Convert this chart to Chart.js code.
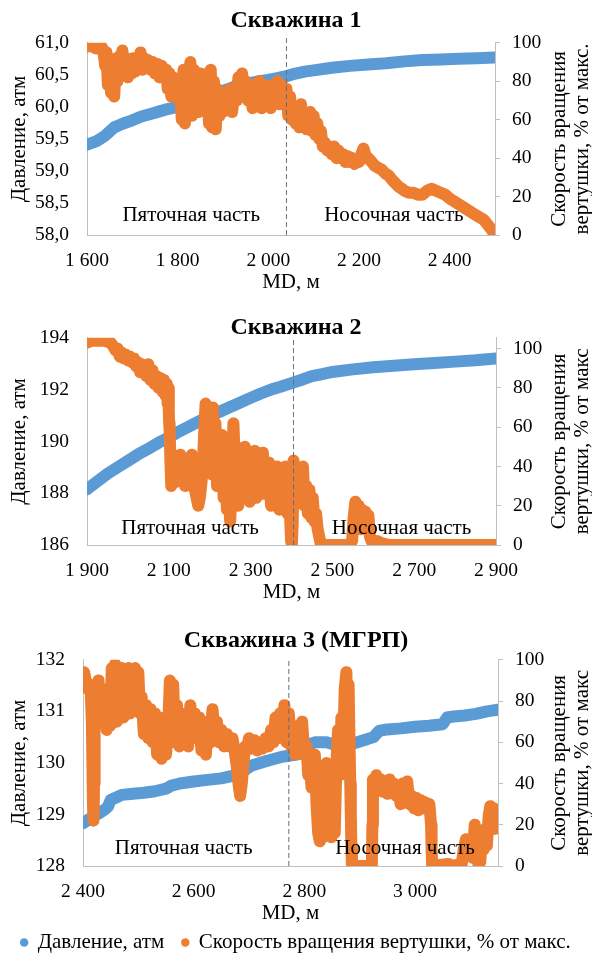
<!DOCTYPE html>
<html lang="ru">
<head>
<meta charset="utf-8">
<title>Скважины 1–3</title>
<script src="https://cdn.jsdelivr.net/npm/chart.js@4.4.1/dist/chart.umd.min.js"></script>
<style>
    html, body { margin: 0; padding: 0; background: #fff; overflow: hidden; }
    canvas { display: block; }
</style>
</head>
<body>
<canvas id="well1" width="592" height="300"></canvas>
<canvas id="well2" width="592" height="315"></canvas>
<canvas id="well3" width="592" height="348"></canvas>
<script>
    'use strict';

    // Общие подписи
    const pressureLabel = 'Давление, атм';
    const spinLabel = 'Скорость вращения вертушки, % от макс.';
    const spinTicks = [0, 20, 40, 60, 80, 100];

    // ---- Скважина 1 ----
    const well1MdTicks = [1600, 1800, 2000, 2200, 2400];
    const well1PressureTicks = [58, 58.5, 59, 59.5, 60, 60.5, 61];
    const well1Pressure = [
        [1600, 59.41], [1620, 59.46], [1640, 59.55], [1660, 59.68], [1680, 59.74], [1700, 59.79],
        [1720, 59.85], [1740, 59.89], [1760, 59.93], [1780, 59.97], [1800, 60.0], [1820, 60.05],
        [1840, 60.1], [1860, 60.15], [1880, 60.2], [1900, 60.25], [1920, 60.3], [1940, 60.34],
        [1960, 60.37], [1980, 60.4], [2000, 60.42], [2020, 60.45], [2040, 60.48], [2060, 60.52],
        [2080, 60.55], [2100, 60.57], [2140, 60.61], [2180, 60.64], [2220, 60.66], [2260, 60.68],
        [2300, 60.71], [2340, 60.73], [2380, 60.74], [2420, 60.75], [2460, 60.76], [2500, 60.77]
    ];
    const well1Spin = [
        [1600, 98], [1605, 99], [1612, 98], [1620, 97], [1626, 100], [1632, 98], [1636, 96],
        [1640, 88], [1643, 95], [1646, 78], [1650, 90], [1653, 74], [1657, 86], [1660, 72], [1664, 92], [1667, 80],
        [1671, 93], [1674, 84], [1678, 96], [1682, 86], [1686, 92], [1690, 82], [1694, 90], [1698, 84],
        [1702, 92], [1706, 85], [1710, 90], [1714, 86], [1718, 95], [1722, 86], [1726, 92], [1730, 88],
        [1735, 91], [1740, 86], [1745, 90], [1750, 84], [1755, 89], [1760, 82], [1765, 88], [1770, 84],
        [1775, 86], [1778, 76], [1782, 84], [1786, 72], [1790, 82], [1794, 74], [1798, 80], [1802, 70],
        [1806, 78], [1809, 60], [1813, 86], [1816, 58], [1820, 82], [1824, 64], [1828, 90], [1832, 62],
        [1836, 86], [1840, 66], [1844, 80], [1847, 64], [1851, 84], [1855, 70], [1858, 78], [1862, 66],
        [1866, 84], [1869, 58], [1873, 86], [1876, 56], [1880, 80], [1884, 55], [1888, 76], [1892, 62],
        [1896, 74], [1900, 64], [1905, 72], [1910, 66], [1915, 76], [1920, 64], [1925, 74], [1930, 70],
        [1934, 82], [1938, 72], [1942, 84], [1946, 72], [1950, 80], [1955, 70], [1960, 76], [1965, 66],
        [1970, 78], [1975, 68], [1980, 80], [1985, 66], [1990, 78], [1995, 70], [2000, 76], [2005, 66],
        [2010, 78], [2015, 70], [2020, 80], [2025, 68], [2030, 78], [2035, 70],
        [2040, 76], [2044, 62], [2048, 72], [2052, 60], [2056, 66], [2060, 58], [2064, 62], [2068, 56],
        [2072, 68], [2076, 58], [2080, 62], [2084, 55], [2088, 58], [2092, 64], [2096, 54], [2100, 62],
        [2104, 52], [2108, 58], [2112, 50], [2116, 54], [2120, 46], [2125, 48], [2130, 44],
        [2135, 46], [2140, 42], [2145, 46], [2150, 40], [2155, 44], [2160, 40], [2165, 42], [2170, 38],
        [2175, 41], [2180, 38], [2185, 40], [2190, 37], [2195, 39], [2200, 38], [2205, 42], [2210, 45],
        [2215, 41], [2220, 40], [2228, 38], [2235, 36], [2242, 35], [2250, 34], [2258, 32], [2265, 31],
        [2272, 29], [2280, 27], [2288, 25], [2295, 24], [2300, 23], [2310, 22], [2320, 22], [2330, 21],
        [2340, 21], [2350, 23], [2360, 24], [2370, 23], [2380, 22], [2390, 21], [2400, 19], [2420, 16],
        [2440, 13], [2460, 10], [2475, 8], [2485, 5], [2492, 3], [2497, 1], [2500, 0]
    ];

    // ---- Скважина 2 ----
    const well2MdTicks = [1900, 2100, 2300, 2500, 2700, 2900];
    const well2PressureTicks = [186, 188, 190, 192, 194];
    const well2Pressure = [
        [1900, 188.15], [1925, 188.45], [1950, 188.75], [1975, 189.0], [2000, 189.25], [2025, 189.5],
        [2050, 189.72], [2075, 189.95], [2100, 190.15], [2125, 190.38], [2150, 190.58], [2175, 190.78],
        [2200, 190.98], [2225, 191.15], [2250, 191.33], [2275, 191.5], [2300, 191.68], [2325, 191.85],
        [2350, 192.0], [2375, 192.12], [2400, 192.25], [2425, 192.38], [2450, 192.52], [2475, 192.6],
        [2500, 192.68], [2550, 192.78], [2600, 192.86], [2650, 192.92], [2700, 192.98], [2750, 193.03],
        [2800, 193.08], [2850, 193.13], [2900, 193.2]
    ];
    const well2Spin = [
        [1900, 103], [1910, 104], [1920, 104], [1930, 104], [1940, 104], [1950, 103.5], [1958, 103],
        [1965, 101], [1970, 99], [1975, 100], [1980, 96], [1985, 98], [1990, 95], [1995, 97], [2000, 94],
        [2005, 96], [2010, 93], [2015, 95], [2020, 91], [2025, 93], [2030, 88], [2035, 92], [2040, 90],
        [2045, 86], [2050, 92], [2055, 84], [2060, 89], [2065, 82], [2070, 86], [2075, 80], [2080, 85],
        [2085, 78], [2088, 84], [2092, 76], [2095, 82], [2097, 72], [2099, 80], [2100, 68], [2101, 62],
        [2102, 58], [2104, 42], [2106, 30], [2108, 46], [2110, 34], [2113, 40], [2116, 32], [2120, 44],
        [2124, 34], [2128, 46], [2132, 36], [2136, 42], [2140, 30], [2144, 40], [2148, 34], [2152, 42],
        [2156, 46], [2160, 36], [2164, 28], [2168, 24], [2172, 20], [2176, 24], [2180, 32], [2184, 44],
        [2187, 60], [2190, 72], [2193, 50], [2196, 70], [2199, 40], [2202, 66], [2205, 36], [2208, 70],
        [2211, 46], [2214, 62], [2218, 30], [2222, 54], [2226, 40], [2230, 56], [2234, 24], [2238, 46],
        [2242, 18], [2246, 40], [2250, 12], [2254, 30], [2258, 62], [2262, 38], [2266, 50], [2270, 20],
        [2274, 38], [2278, 48], [2282, 26], [2286, 50], [2290, 30], [2294, 44], [2298, 22], [2302, 40],
        [2306, 26], [2310, 48], [2314, 24], [2318, 42], [2322, 28], [2330, 47], [2335, 26], [2340, 38],
        [2345, 42], [2350, 20], [2355, 34], [2360, 24], [2365, 40], [2370, 18], [2375, 32], [2380, 22],
        [2385, 40], [2390, 16], [2394, 34], [2397, 12], [2399, 2], [2401, 0], [2403, 12], [2405, 43],
        [2408, 20], [2412, 40], [2416, 22], [2420, 38], [2424, 24], [2428, 40], [2432, 20], [2436, 30],
        [2440, 16], [2444, 28], [2448, 14], [2452, 24], [2456, 12], [2460, 16], [2464, 8], [2468, 4],
        [2472, 0], [2500, 0], [2540, 0], [2548, 2], [2552, 14], [2556, 22], [2560, 10], [2564, 20],
        [2568, 8], [2572, 18], [2576, 14], [2580, 17], [2584, 8], [2588, 15], [2592, 4], [2596, 2],
        [2600, 1], [2610, 2], [2620, 1], [2640, 0], [2700, 0], [2800, 0], [2900, 0]
    ];

    // ---- Скважина 3 (МГРП) ----
    const well3MdTicks = [2400, 2600, 2800, 3000];
    const well3PressureTicks = [128, 129, 130, 131, 132];
    const well3Pressure = [
        [2400, 128.83], [2410, 128.9], [2420, 128.97], [2430, 129.03], [2440, 129.1], [2445, 129.15],
        [2450, 129.28], [2460, 129.33], [2470, 129.38], [2490, 129.4], [2510, 129.42], [2530, 129.45],
        [2550, 129.5], [2560, 129.56], [2575, 129.6], [2600, 129.64], [2625, 129.67], [2650, 129.7],
        [2670, 129.75], [2685, 129.8], [2695, 129.88], [2705, 129.95], [2720, 130.0], [2740, 130.06],
        [2760, 130.12], [2780, 130.15], [2795, 130.18], [2805, 130.35], [2820, 130.4], [2840, 130.4],
        [2860, 130.34], [2875, 130.33], [2890, 130.38], [2910, 130.45], [2925, 130.5], [2935, 130.62],
        [2950, 130.65], [2975, 130.67], [3000, 130.7], [3025, 130.72], [3050, 130.75], [3058, 130.88],
        [3070, 130.9], [3090, 130.92], [3110, 130.95], [3130, 131.0], [3150, 131.03]
    ];
    const well3Spin = [
        [2398, 92], [2402, 94], [2405, 90], [2408, 86], [2411, 88], [2414, 84], [2416, 70], [2417, 50],
        [2418, 30], [2419, 22], [2420, 40], [2421, 70], [2422, 88], [2425, 80], [2428, 90], [2431, 78],
        [2434, 86], [2437, 70], [2440, 82], [2443, 66], [2446, 78], [2449, 68], [2452, 96], [2455, 74],
        [2458, 98], [2461, 70], [2464, 92], [2467, 76], [2470, 96], [2473, 72], [2476, 94], [2479, 78],
        [2482, 96], [2485, 74], [2488, 92], [2491, 76], [2494, 96], [2497, 80], [2500, 94], [2503, 74],
        [2506, 82], [2510, 64], [2514, 78], [2518, 62], [2522, 76], [2526, 60], [2530, 74], [2534, 54],
        [2538, 72], [2542, 52], [2546, 70], [2550, 54], [2554, 68], [2557, 90], [2560, 60], [2563, 88],
        [2566, 62], [2570, 78], [2574, 58], [2578, 74], [2582, 60], [2586, 72], [2590, 58], [2594, 78],
        [2598, 62], [2602, 74], [2606, 62], [2610, 72], [2614, 56], [2618, 70], [2622, 54], [2626, 68],
        [2630, 60], [2634, 76], [2638, 64], [2642, 70], [2646, 60], [2650, 66], [2655, 58], [2660, 64],
        [2665, 58], [2670, 62], [2674, 56], [2678, 48], [2681, 40], [2684, 34], [2687, 40], [2690, 50],
        [2693, 58], [2696, 56], [2700, 62], [2705, 57], [2710, 61], [2715, 56], [2720, 60], [2725, 57],
        [2730, 62], [2735, 58], [2740, 66], [2744, 60], [2748, 72], [2752, 62], [2756, 74], [2760, 64],
        [2764, 78], [2768, 60], [2772, 74], [2776, 58], [2780, 68], [2784, 54], [2788, 64], [2792, 56],
        [2796, 70], [2800, 54], [2804, 58], [2807, 44], [2810, 50], [2813, 38], [2816, 44], [2819, 54],
        [2822, 30], [2825, 16], [2828, 12], [2831, 22], [2834, 14], [2837, 30], [2840, 50], [2843, 34],
        [2846, 20], [2849, 14], [2852, 24], [2855, 16], [2858, 50], [2861, 66], [2864, 44], [2867, 72],
        [2870, 56], [2873, 86], [2876, 94], [2878, 60], [2880, 88], [2882, 55], [2883, 40], [2884, 25],
        [2885, 10], [2886, 0], [2922, 0], [2923, 20], [2924, 42], [2927, 38], [2930, 44], [2934, 38],
        [2938, 42], [2942, 36], [2946, 41], [2950, 35], [2954, 42], [2958, 36], [2962, 40], [2966, 34],
        [2970, 38], [2974, 30], [2978, 40], [2982, 32], [2986, 41], [2990, 30], [2994, 34], [2998, 28],
        [3002, 33], [3006, 27], [3010, 32], [3014, 28], [3018, 31], [3022, 28], [3026, 30], [3029, 20],
        [3030, 8], [3031, 0], [3060, 1], [3070, 0], [3080, 1], [3084, 0], [3088, 8], [3092, 13],
        [3096, 6], [3100, 12], [3104, 4], [3108, 20], [3112, 8], [3115, 0], [3118, 2], [3121, 14],
        [3124, 8], [3127, 18], [3130, 10], [3133, 24], [3136, 29], [3139, 20], [3142, 28], [3145, 18],
        [3148, 24], [3150, 21]
    ];

    // Цвета и шрифты
    const colors = {
        pressure: '#5B9BD5',
        spin: '#ED7D31',
        axis: '#BFBFBF',
        divider: '#5F6F86',
        text: '#000000'
    };
    const serif = '"Liberation Serif", "Times New Roman", serif';
    const textSize = 21;

    Chart.defaults.font.family = serif;
    Chart.defaults.font.size = textSize;
    Chart.defaults.color = colors.text;

    const tickFont = { size: 19.5 };
    const toPoints = pairs => pairs.map(p => ({ x: p[0], y: p[1] }));
    const mdLabel = v => String(v).replace(/\B(?=(\d{3})+(?!\d))/g, ' ');
    const fixedTicks = list => scale => { scale.ticks = list.map(value => ({ value: value })); };

    /**
     * Граница пяточной/носочной части, подписи зон и правый заголовок оси
     */
    const wellDecor = {
        id: 'wellDecor',
        afterDatasetsDraw(chart, args, opts) {
            const { ctx, chartArea, scales } = chart;
            const bx = scales.x.getPixelForValue(opts.boundary);

            ctx.save();
            ctx.strokeStyle = colors.divider;
            ctx.lineWidth = 1;
            ctx.setLineDash([5, 3]);
            ctx.beginPath();
            ctx.moveTo(bx, chartArea.bottom);
            ctx.lineTo(bx, chartArea.top - opts.overshoot);
            ctx.stroke();
            ctx.setLineDash([]);

            ctx.font = textSize + 'px ' + serif;
            ctx.fillStyle = colors.text;
            ctx.textAlign = 'center';
            ctx.textBaseline = 'middle';
            opts.zones.forEach(function(z) {
                ctx.fillText(z.text, scales.x.getPixelForValue(z.x), scales.y2.getPixelForValue(z.y));
            });

            // подпись правой оси читается снизу вверх, как в Excel
            const midY = (chartArea.top + chartArea.bottom) / 2;
            opts.rightTitle.forEach(function(line, i) {
                ctx.save();
                ctx.translate(opts.rightTitleX[i], midY);
                ctx.rotate(-Math.PI / 2);
                ctx.fillText(line, 0, 0);
                ctx.restore();
            });
            ctx.restore();
        }
    };

    /**
     * Построение одного графика скважины
     */
    function drawWell(id, cfg) {
        const canvas = document.getElementById(id);
        return new Chart(canvas, {
            type: 'line',
            data: {
                datasets: [{
                    label: pressureLabel,
                    data: toPoints(cfg.pressure),
                    yAxisID: 'y',
                    borderColor: colors.pressure,
                    backgroundColor: colors.pressure,
                    borderWidth: 12,
                    borderCapStyle: 'round',
                    borderJoinStyle: 'round',
                    pointRadius: 0,
                    tension: 0,
                    order: 2
                }, {
                    label: spinLabel,
                    data: toPoints(cfg.spin),
                    yAxisID: 'y2',
                    borderColor: colors.spin,
                    backgroundColor: colors.spin,
                    borderWidth: 12,
                    borderCapStyle: 'round',
                    borderJoinStyle: 'round',
                    pointRadius: 0,
                    tension: 0,
                    order: 1
                }]
            },
            options: {
                responsive: false,
                animation: false,
                events: [],
                layout: { padding: 0 },
                scales: {
                    x: {
                        type: 'linear',
                        min: cfg.mdMin,
                        max: cfg.mdMax,
                        afterBuildTicks: fixedTicks(cfg.mdTicks),
                        afterFit: s => { s.height = cfg.xAxisHeight; },
                        grid: { display: false, drawTicks: false },
                        border: { color: colors.axis },
                        ticks: { padding: 14, font: tickFont, maxRotation: 0, callback: v => mdLabel(v) },
                        title: { display: true, text: 'MD, м', padding: { top: 0, bottom: cfg.xTitlePad } }
                    },
                    y: {
                        position: 'left',
                        min: cfg.pressureTicks[0],
                        max: cfg.pressureTicks[cfg.pressureTicks.length - 1],
                        afterBuildTicks: fixedTicks(cfg.pressureTicks),
                        afterFit: s => { s.width = cfg.left; },
                        grid: { display: false, drawTicks: false },
                        border: { color: colors.axis },
                        ticks: { padding: 18, font: tickFont, callback: cfg.pressureFormat },
                        title: { display: true, text: pressureLabel, padding: { top: 7, bottom: 0 } }
                    },
                    y2: {
                        position: 'right',
                        min: 0,
                        max: cfg.spinMax,
                        afterBuildTicks: fixedTicks(spinTicks),
                        afterFit: s => { s.width = 592 - cfg.right; },
                        grid: { display: true, drawOnChartArea: false, tickLength: 5, color: colors.axis },
                        border: { color: colors.axis },
                        ticks: { padding: 12, font: tickFont }
                    }
                },
                plugins: {
                    title: {
                        display: true,
                        text: cfg.title,
                        font: { size: 24, weight: 'bold' },
                        padding: { top: cfg.titleTop, bottom: cfg.titleBottom }
                    },
                    legend: {
                        display: !!cfg.legend,
                        position: 'bottom',
                        labels: {
                            usePointStyle: true,
                            pointStyle: 'circle',
                            boxWidth: 6,
                            boxHeight: 6,
                            padding: 18,
                            sort: (a, b) => a.datasetIndex - b.datasetIndex,
                            generateLabels: chart => Chart.defaults.plugins.legend.labels.generateLabels(chart)
                                .map(item => Object.assign(item, { lineWidth: 0 }))
                        }
                    },
                    tooltip: { enabled: false },
                    wellDecor: {
                        boundary: cfg.boundary,
                        overshoot: cfg.overshoot,
                        zones: [
                            { text: 'Пяточная часть', x: cfg.heelX, y: cfg.zoneY },
                            { text: 'Носочная часть', x: cfg.toeX, y: cfg.zoneY }
                        ],
                        rightTitle: ['Скорость вращения', cfg.rightTitle2],
                        rightTitleX: [559, 582]
                    }
                }
            },
            plugins: [wellDecor]
        });
    }

    drawWell('well1', {
        title: 'Скважина 1',
        pressure: well1Pressure, spin: well1Spin,
        mdTicks: well1MdTicks, mdMin: 1600, mdMax: 2500,
        pressureTicks: well1PressureTicks, pressureFormat: v => v.toFixed(1).replace('.', ','),
        spinMax: 100,
        boundary: 2040, heelX: 1830, toeX: 2277, zoneY: 10, overshoot: 8,
        rightTitle2: 'вертушки, % от макс.',
        left: 87, right: 495, titleTop: 6, titleBottom: 8,
        xAxisHeight: 65, xTitlePad: 5
    });

    drawWell('well2', {
        title: 'Скважина 2',
        pressure: well2Pressure, spin: well2Spin,
        mdTicks: well2MdTicks, mdMin: 1900, mdMax: 2900,
        pressureTicks: well2PressureTicks, pressureFormat: v => String(v),
        spinMax: 105.5,
        boundary: 2405, heelX: 2152, toeX: 2669, zoneY: 8.6, overshoot: 0,
        rightTitle2: 'вертушки, % от макс',
        left: 87, right: 496, titleTop: 13, titleBottom: -4,
        xAxisHeight: 70, xTitlePad: 10
    });

    drawWell('well3', {
        title: 'Скважина 3 (МГРП)',
        pressure: well3Pressure, spin: well3Spin,
        mdTicks: well3MdTicks, mdMin: 2400, mdMax: 3150,
        pressureTicks: well3PressureTicks, pressureFormat: v => String(v),
        spinMax: 100,
        boundary: 2772, heelX: 2582, toeX: 2982, zoneY: 8.7, overshoot: 0,
        rightTitle2: 'вертушки, % от макс',
        left: 83, right: 498, titleTop: 11, titleBottom: 5,
        xAxisHeight: 48, xTitlePad: -12,
        legend: true
    });
</script>
</body>
</html>
